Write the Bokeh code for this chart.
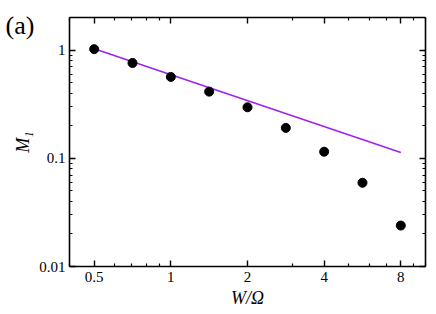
from bokeh.plotting import figure
from bokeh.models import FixedTicker, LogAxis, CustomJSTickFormatter
from bokeh.embed import file_html
from bokeh.resources import INLINE

# data
w_over_omega = [0.5, 0.707, 1.0, 1.414, 2.0, 2.828, 4.0, 5.657, 8.0]
m1_values = [1.02, 0.76, 0.565, 0.413, 0.296, 0.191, 0.115, 0.0594, 0.0239]
fit_x = [0.5, 8.0]
fit_y = [1.03, 0.113]

x_major = [0.5, 1, 2, 4, 8]
x_minor = [0.4, 0.6, 0.7, 0.8, 0.9, 3, 5, 6, 7, 9, 10]
y_major = [0.01, 0.1, 1]
y_minor = [0.02, 0.03, 0.04, 0.05, 0.06, 0.07, 0.08, 0.09,
           0.2, 0.3, 0.4, 0.5, 0.6, 0.7, 0.8, 0.9, 2]
panel_tag = "(a)"

SERIF = "Liberation Serif"

p = figure(x_axis_type="log", y_axis_type="log",
           x_range=(0.4, 10), y_range=(0.01, 2),
           frame_width=356, frame_height=249,
           min_border_left=69, min_border_right=2, min_border_top=17, min_border_bottom=40,
           output_backend="svg", toolbar_location=None)
p.xgrid.visible = False
p.ygrid.visible = False
p.outline_line_color = None
p.background_fill_color = "white"
p.border_fill_color = "white"

# panel tag as title, pulled down next to the frame's top-left corner
p.title.text = panel_tag
p.title.align = "left"
p.title.vertical_align = "bottom"
p.title.offset = -64
p.title.standoff = -44
p.title.text_font = SERIF
p.title.text_font_style = "normal"
p.title.text_font_size = "26px"
p.title.text_color = "black"

fmt = CustomJSTickFormatter(code="return String(tick);")
blank = CustomJSTickFormatter(code="return '';")

def style(ax, labels=True):
    ax.axis_line_color = "black"
    ax.axis_line_width = 1.6
    ax.major_tick_in = 6
    ax.major_tick_out = 0
    ax.minor_tick_in = 3
    ax.minor_tick_out = 0
    ax.major_tick_line_color = "black"
    ax.minor_tick_line_color = "black"
    ax.major_tick_line_width = 1.4
    ax.minor_tick_line_width = 1.2
    if labels:
        ax.formatter = fmt
        ax.major_label_text_font = SERIF
        ax.major_label_text_font_size = "15px"
        ax.major_label_text_color = "black"
    else:
        ax.formatter = blank
        ax.major_label_standoff = 0

xt = FixedTicker(ticks=x_major, minor_ticks=x_minor)
yt = FixedTicker(ticks=y_major, minor_ticks=y_minor)

p.xaxis.ticker = xt
p.yaxis.ticker = yt
style(p.xaxis[0])
style(p.yaxis[0])
p.xaxis.major_label_standoff = 5
p.yaxis.major_label_standoff = 4

p.xaxis.axis_label = "W/Ω"
p.yaxis.axis_label = "M₁"
for ax in (p.xaxis[0], p.yaxis[0]):
    ax.axis_label_text_font = SERIF
    ax.axis_label_text_font_style = "italic"
    ax.axis_label_text_font_size = "18px"
    ax.axis_label_text_color = "black"
p.xaxis.axis_label_standoff = 3
p.yaxis.axis_label_standoff = 3

top = LogAxis(ticker=xt)
style(top, labels=False)
right = LogAxis(ticker=yt)
style(right, labels=False)
p.add_layout(top, "above")
p.add_layout(right, "right")

p.line(fit_x, fit_y, line_color="#A020F0", line_width=1.6)
p.scatter(w_over_omega, m1_values, size=9, fill_color="black", line_color="black")

open("out.html", "w").write(file_html(p, INLINE))
